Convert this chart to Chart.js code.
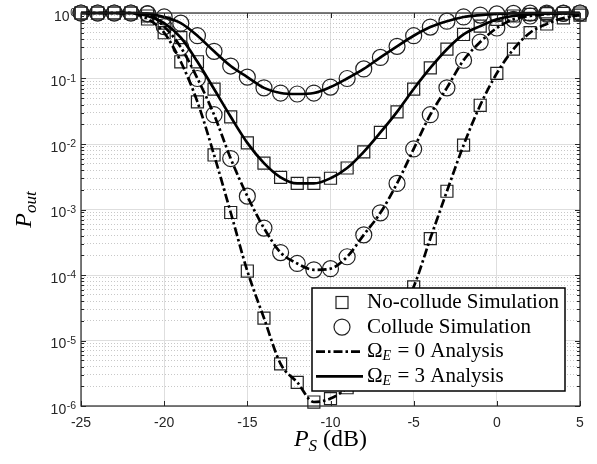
<!DOCTYPE html>
<html>
<head>
<meta charset="utf-8">
<script src="https://cdn.jsdelivr.net/npm/chart.js@4.4.1/dist/chart.umd.min.js"></script>
<style>
  html, body { margin: 0; padding: 0; background: #fff; }
  #wrap { width: 597px; height: 464px; }
</style>
</head>
<body>
<div id="wrap"><canvas id="poutChart" width="597" height="464"></canvas></div>
<script>
// P_S in dB, one sample per dB
const PS_DB = [-25, -24, -23, -22, -21, -20, -19, -18, -17, -16, -15, -14, -13, -12, -11, -10,
               -9, -8, -7, -6, -5, -4, -3, -2, -1, 0, 1, 2, 3, 4, 5];

// outage probability
const COLLUDE_OMEGA3 = [1, 1, 1, 1, 0.98, 0.87, 0.70, 0.45, 0.26, 0.155, 0.105, 0.072, 0.060, 0.058, 0.060, 0.074,
                        0.10, 0.14, 0.21, 0.31, 0.45, 0.61, 0.75, 0.87, 0.93, 0.97, 0.985, 0.993, 0.997, 0.999, 1];
const NOCOLLUDE_OMEGA3 = [1, 1, 1, 1, 0.90, 0.70, 0.42, 0.18, 0.069, 0.026, 0.0104, 0.0051, 0.0031, 0.0025, 0.0025, 0.0030,
                          0.0043, 0.0076, 0.015, 0.031, 0.069, 0.145, 0.28, 0.47, 0.63, 0.80, 0.90, 0.95, 0.98, 0.99, 1];
const COLLUDE_OMEGA0 = [1, 1, 1, 1, 0.97, 0.62, 0.30, 0.10, 0.028, 0.0060, 0.0016, 5.2e-4, 2.2e-4, 1.5e-4, 1.2e-4, 1.25e-4,
                        1.9e-4, 4.1e-4, 8.9e-4, 0.0025, 0.0084, 0.028, 0.072, 0.19, 0.36, 0.59, 0.80, 0.90, 0.96, 0.985, 1];
const NOCOLLUDE_OMEGA0 = [1, 1, 1, 1, 0.81, 0.50, 0.18, 0.044, 0.0068, 9.0e-4, 1.15e-4, 2.2e-5, 4.4e-6, 2.3e-6, 1.15e-6, 1.3e-6,
                          1.9e-6, 3.5e-6, 8.0e-6, 2.2e-5, 6.6e-5, 3.6e-4, 0.0019, 0.0096, 0.039, 0.12, 0.28, 0.50, 0.68, 0.84, 0.93];

const X_TICKS = [-25, -20, -15, -10, -5, 0, 5];
const Y_DECADES = [-6, -5, -4, -3, -2, -1, 0];

const TICK_FONT = '"Liberation Sans", Arial, sans-serif';
const SERIF = '"Liberation Serif", "Times New Roman", serif';
const AXIS_GREY = '#262626';
const DASH_DOT = [9, 3, 2.5, 3];
const LINE_W = 2.7;

function toPoints(ys) {
    return PS_DB.map((x, i) => ({ x: x, y: ys[i] }));
}

function isDecade(v) {
    const l = Math.log10(v);
    return Math.abs(l - Math.round(l)) < 1e-9;
}

// minor + major tick values for the log axis
const yTickValues = [];
Y_DECADES.forEach(k => {
    if (k === 0) { yTickValues.push(1); return; }
    for (let m = 1; m <= 9; m++) yTickValues.push(m * Math.pow(10, k));
});

function analysisLine(ys, dash) {
    return {
        data: toPoints(ys),
        borderColor: '#000',
        borderWidth: LINE_W,
        borderDash: dash,
        pointRadius: 0,
        cubicInterpolationMode: 'monotone',
        fill: false,
        clip: false
    };
}

function simMarkers(ys, style, r) {
    return {
        data: toPoints(ys),
        showLine: false,
        pointStyle: style,
        pointRadius: r,
        pointBorderColor: '#222',
        pointBorderWidth: 1.2,
        pointBackgroundColor: 'rgba(0,0,0,0)',
        clip: false
    };
}

// legend, inner tick marks, box, y labels and axis titles
const decorPlugin = {
    id: 'decor',
    afterDraw(chart) {
        const ctx = chart.ctx;
        const a = chart.chartArea;
        const xs = chart.scales.x, ys = chart.scales.y;

        ctx.save();
        ctx.strokeStyle = AXIS_GREY;
        ctx.lineWidth = 1;
        ctx.beginPath();
        X_TICKS.forEach(v => {
            const px = Math.round(xs.getPixelForValue(v)) + 0.5;
            ctx.moveTo(px, a.bottom); ctx.lineTo(px, a.bottom - 5);
            ctx.moveTo(px, a.top); ctx.lineTo(px, a.top + 5);
        });
        yTickValues.forEach(v => {
            const py = Math.round(ys.getPixelForValue(v)) + 0.5;
            const len = isDecade(v) ? 5 : 3;
            ctx.moveTo(a.left, py); ctx.lineTo(a.left + len, py);
            ctx.moveTo(a.right, py); ctx.lineTo(a.right - len, py);
        });
        ctx.stroke();

        ctx.lineWidth = 1.2;
        ctx.strokeRect(a.left, a.top, a.right - a.left, a.bottom - a.top);

        // y tick labels 10^k
        ctx.fillStyle = AXIS_GREY;
        ctx.textAlign = 'right';
        ctx.textBaseline = 'alphabetic';
        Y_DECADES.forEach(k => {
            const py = ys.getPixelForValue(Math.pow(10, k));
            const right = a.left - 5;
            ctx.font = '10.5px ' + TICK_FONT;
            const exp = String(k);
            const ew = ctx.measureText(exp).width;
            ctx.fillText(exp, right, py + 3);
            ctx.font = '14px ' + TICK_FONT;
            ctx.fillText('10', right - ew - 0.5, py + 7.5);
        });

        // axis titles
        ctx.fillStyle = '#000';
        ctx.textAlign = 'left';
        const big = 'italic 24px ' + SERIF, sub = 'italic 17px ' + SERIF;
        ctx.save();
        ctx.translate(31, (a.top + a.bottom) / 2);
        ctx.rotate(-Math.PI / 2);
        ctx.font = big; const pw = ctx.measureText('P').width;
        ctx.font = sub; const ow = ctx.measureText('out').width;
        let sx = -(pw + ow) / 2;
        ctx.font = big; ctx.fillText('P', sx, 0);
        ctx.font = sub; ctx.fillText('out', sx + pw, 5);
        ctx.restore();

        ctx.font = big; const pw2 = ctx.measureText('P').width;
        ctx.font = sub; const sw2 = ctx.measureText('S').width;
        ctx.font = '24px ' + SERIF; const dw = ctx.measureText(' (dB)').width;
        let bx = (a.left + a.right) / 2 - (pw2 + sw2 + dw) / 2;
        const by = 446;
        ctx.font = big; ctx.fillText('P', bx, by);
        ctx.font = sub; ctx.fillText('S', bx + pw2, by + 5);
        ctx.font = '24px ' + SERIF; ctx.fillText(' (dB)', bx + pw2 + sw2, by);

        // legend box
        const lw = 253, lh = 103;
        const lx = a.right - 15 - lw, ly = a.bottom - 15 - lh;
        ctx.fillStyle = '#fff';
        ctx.fillRect(lx, ly, lw, lh);
        ctx.strokeStyle = '#000';
        ctx.lineWidth = 1.5;
        ctx.strokeRect(lx, ly, lw, lh);

        const rowY = i => ly + 14.5 + i * 24.6;
        const mx = lx + 30, tx = lx + 55;
        ctx.strokeStyle = '#222';
        ctx.lineWidth = 1.2;
        ctx.strokeRect(mx - 6, rowY(0) - 6, 12, 12);
        ctx.beginPath(); ctx.arc(mx, rowY(1), 8, 0, Math.PI * 2); ctx.stroke();
        ctx.strokeStyle = '#000';
        ctx.lineWidth = LINE_W;
        ctx.setLineDash(DASH_DOT);
        ctx.beginPath(); ctx.moveTo(lx + 4, rowY(2)); ctx.lineTo(lx + 51, rowY(2)); ctx.stroke();
        ctx.setLineDash([]);
        ctx.beginPath(); ctx.moveTo(lx + 4, rowY(3)); ctx.lineTo(lx + 51, rowY(3)); ctx.stroke();

        ctx.fillStyle = '#000';
        ctx.textBaseline = 'middle';
        const lf = '21px ' + SERIF;
        ctx.font = lf;
        ctx.fillText('No-collude Simulation', tx, rowY(0));
        ctx.fillText('Collude Simulation', tx, rowY(1));
        ['0', '3'].forEach((n, j) => {
            const y = rowY(2 + j);
            ctx.font = lf;
            ctx.fillText('Ω', tx, y);
            const ow2 = ctx.measureText('Ω').width;
            ctx.font = 'italic 14px ' + SERIF;
            ctx.fillText('E', tx + ow2, y + 5);
            const ew2 = ctx.measureText('E').width;
            ctx.font = lf;
            ctx.fillText(' = ' + n + ' Analysis', tx + ow2 + ew2 + 1, y);
        });
        ctx.restore();
    }
};

new Chart(document.getElementById('poutChart'), {
    type: 'line',
    data: {
        datasets: [
            analysisLine(COLLUDE_OMEGA3, []),
            analysisLine(NOCOLLUDE_OMEGA3, []),
            analysisLine(COLLUDE_OMEGA0, DASH_DOT),
            analysisLine(NOCOLLUDE_OMEGA0, DASH_DOT),
            simMarkers(COLLUDE_OMEGA3, 'circle', 8),
            simMarkers(COLLUDE_OMEGA0, 'circle', 8),
            simMarkers(NOCOLLUDE_OMEGA3, 'rect', 8.5),
            simMarkers(NOCOLLUDE_OMEGA0, 'rect', 8.5)
        ]
    },
    options: {
        responsive: false,
        animation: false,
        events: [],
        layout: { padding: { top: 13, right: 17, left: 0, bottom: 0 } },
        plugins: { legend: { display: false }, tooltip: { enabled: false } },
        scales: {
            x: {
                type: 'linear',
                min: -25,
                max: 5,
                afterBuildTicks: s => { s.ticks = X_TICKS.map(v => ({ value: v })); },
                afterFit: s => { s.height = 58; },
                grid: { color: '#dedede', lineWidth: 1, drawTicks: false },
                border: { display: false },
                ticks: {
                    font: { family: TICK_FONT, size: 14 },
                    color: AXIS_GREY,
                    padding: 9,
                    maxRotation: 0,
                    autoSkip: false
                }
            },
            y: {
                type: 'logarithmic',
                min: 1e-6,
                max: 1,
                afterBuildTicks: s => { s.ticks = yTickValues.map(v => ({ value: v })); },
                afterFit: s => { s.width = 81; },
                grid: {
                    color: c => (c.tick && isDecade(c.tick.value)) ? '#dedede' : '#c8c8c8',
                    lineWidth: 1,
                    drawTicks: false
                },
                border: {
                    display: false,
                    dash: c => (c.tick && !isDecade(c.tick.value)) ? [1, 2] : []
                },
                ticks: { display: false, autoSkip: false }
            }
        }
    },
    plugins: [decorPlugin]
});
</script>
</body>
</html>
